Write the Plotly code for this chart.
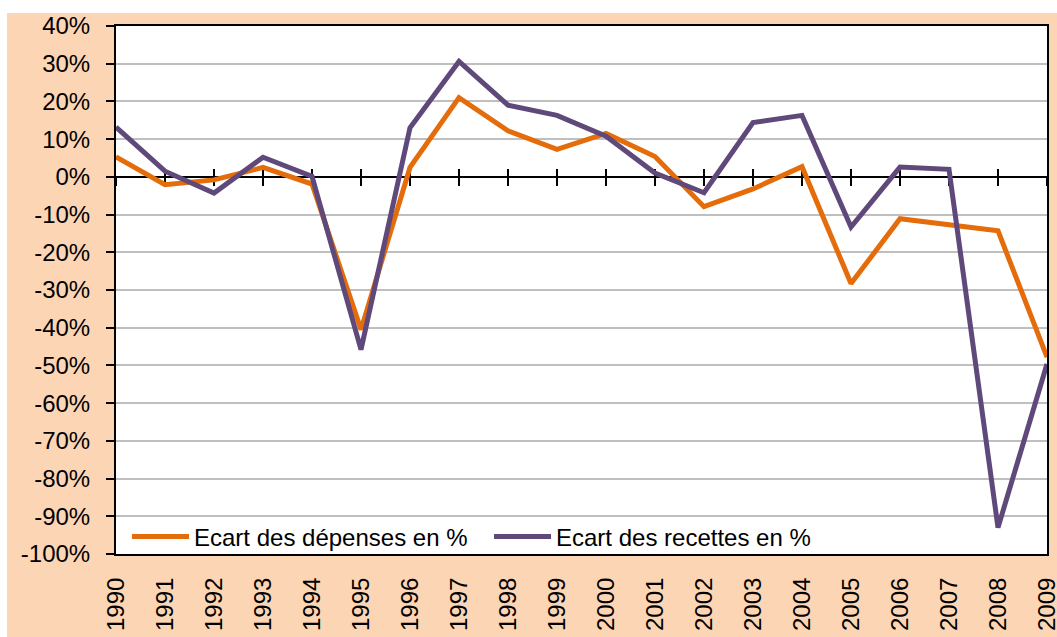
import plotly.graph_objects as go

years = list(range(1990, 2010))
year_labels = [str(y) for y in years]
depenses = [5.3, -2.1, -0.8, 2.5, -1.9, -40.5, 2.5, 21.0, 12.2, 7.3, 11.5, 5.4, -7.9, -3.2, 2.7, -28.3, -11.1, -12.8, -14.3, -47.8]
recettes = [13.2, 1.5, -4.3, 5.2, 0.1, -45.8, 13.0, 30.6, 19.0, 16.3, 10.8, 1.0, -4.2, 14.4, 16.3, -13.3, 2.6, 2.0, -93.0, -49.6]
series_names = ["Ecart des dépenses en %", "Ecart des recettes en %"]
y_ticks = list(range(-100, 41, 10))
y_ticktext = [f"{v}%" for v in y_ticks]

ymin, ymax = -100, 40
W, H = 1057, 637
L, R, T, B = 116, 10, 26, 83
pw, ph = W - L - R, H - T - B

ORANGE = "#E46C0A"
PURPLE = "#5F497A"
PEACH = "#FCD5B4"
FONT = "Liberation Sans, Arial, sans-serif"

fig = go.Figure()
fig.add_trace(go.Scatter(x=years, y=depenses, mode="lines", name=series_names[0],
                         line=dict(color=ORANGE, width=5)))
fig.add_trace(go.Scatter(x=years, y=recettes, mode="lines", name=series_names[1],
                         line=dict(color=PURPLE, width=5)))
# invisible helpers for the zero-crossing tick axes
for ax in ["x2", "x3"]:
    fig.add_trace(go.Scatter(x=[years[0], years[-1]], y=[0, 0], xaxis=ax, yaxis="y",
                             mode="lines", line=dict(width=0, color="rgba(0,0,0,0)"),
                             showlegend=False, hoverinfo="skip"))

zero_pos = (0 - ymin) / (ymax - ymin)

fig.update_layout(
    width=W, height=H,
    margin=dict(l=L, r=R, t=T, b=B, autoexpand=False),
    paper_bgcolor="white", plot_bgcolor="white",
    font=dict(family=FONT, size=24, color="black"),
    showlegend=True,
    legend=dict(orientation="h", x=(127 - L) / pw, y=(554 - 537) / ph,
                xanchor="left", yanchor="middle", bgcolor="rgba(0,0,0,0)",
                font=dict(size=24, family=FONT), itemwidth=57,
                entrywidth=290, entrywidthmode="pixels"),
    xaxis=dict(range=[years[0], years[-1]], tickmode="array", tickvals=years,
               ticktext=year_labels, tickangle=-90, ticks="", showgrid=False,
               showline=True, mirror=True, linecolor="black", linewidth=2,
               zeroline=False, ticklabelstandoff=12, automargin=False,
               ticklabeloverflow="allow", tickfont=dict(size=24)),
    xaxis2=dict(overlaying="x", anchor="free", position=zero_pos, layer="below traces",
                range=[years[0], years[-1]], tickmode="array", tickvals=years,
                ticks="outside", ticklen=8, tickwidth=2, tickcolor="black",
                showticklabels=False, showgrid=False, zeroline=False, automargin=False,
                showline=True, linecolor="black", linewidth=2),
    xaxis3=dict(overlaying="x", anchor="free", position=zero_pos, layer="below traces",
                range=[years[0], years[-1]], tickmode="array", tickvals=years,
                ticks="inside", ticklen=8, tickwidth=2, tickcolor="black", automargin=False,
                showticklabels=False, showgrid=False, zeroline=False, showline=False),
    yaxis=dict(range=[ymin, ymax], tickmode="array", tickvals=y_ticks,
               ticktext=y_ticktext, ticks="outside", ticklen=8, tickwidth=2,
               tickcolor="black", showgrid=True, gridcolor="#BFBFBF", gridwidth=1.5,
               showline=True, mirror=True, linecolor="black", linewidth=2,
               zeroline=False, ticklabelstandoff=11, automargin=False,
               tickfont=dict(size=24)),
    shapes=[
        dict(type="rect", xref="paper", yref="paper", layer="below",
             x0=(7 - L) / pw, x1=(W + 5 - L) / pw, y0=-(B + 5) / ph, y1=(H - B - 13) / ph,
             fillcolor=PEACH, line=dict(width=0)),
        dict(type="rect", xref="paper", yref="paper", layer="below",
             x0=0, x1=1, y0=0, y1=1, fillcolor="white", line=dict(width=0)),
    ],
)

fig.write_html("out.html", config={"displayModeBar": False},
               post_script="document.body.style.margin='0';")
